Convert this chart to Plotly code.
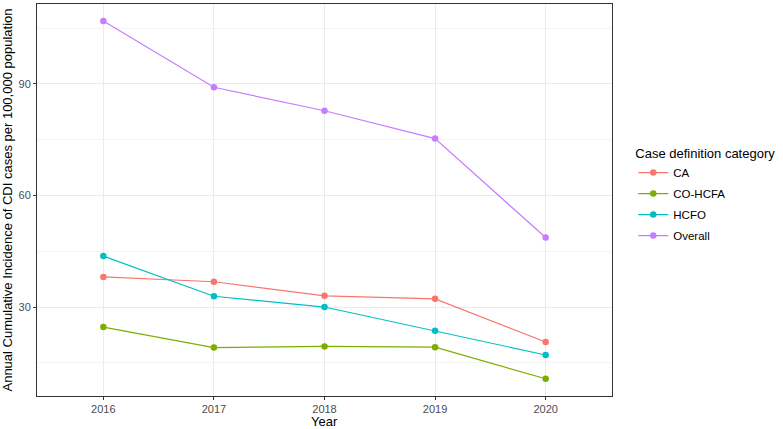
import plotly.graph_objects as go

years = [2016, 2017, 2018, 2019, 2020]
ca = [38.1, 36.8, 33.0, 32.2, 20.6]
co_hcfa = [24.6, 19.1, 19.4, 19.2, 10.7]
hcfo = [43.7, 32.9, 30.0, 23.6, 17.1]
overall = [106.9, 89.1, 82.8, 75.3, 48.7]

series_names = ["CA", "CO-HCFA", "HCFO", "Overall"]
series_values = [ca, co_hcfa, hcfo, overall]
colors = ["#F8766D", "#7CAE00", "#00BFC4", "#C77CFF"]

fig = go.Figure()
for name, vals, col in zip(series_names, series_values, colors):
    fig.add_trace(go.Scatter(
        x=years, y=vals, name=name, mode="lines+markers",
        line=dict(color=col, width=1.2),
        marker=dict(color=col, size=6.5),
        legendgroup=name,
    ))

font_family = "Liberation Sans, Arial, sans-serif"
fig.update_layout(
    width=783, height=429,
    margin=dict(l=37, r=171, t=4, b=33),
    paper_bgcolor="white", plot_bgcolor="white",
    font=dict(family=font_family, color="#000000"),
    showlegend=True,
    legend=dict(
        x=1.037, xanchor="left", y=0.65, yanchor="top",
        title=dict(text="Case definition category", font=dict(size=13, color="#000000")),
        font=dict(size=11.5, color="#000000"),
        tracegroupgap=2,
        bgcolor="rgba(0,0,0,0)",
    ),
    annotations=[dict(
        text="Year", xref="paper", yref="paper", x=0.5, y=0,
        xanchor="center", yanchor="middle", yshift=-25, showarrow=False,
        font=dict(size=13, color="#000000"),
    )],
)
fig.update_xaxes(
    range=[2015.4, 2020.6],
    tickvals=years, ticktext=[str(y) for y in years],
    ticks="outside", ticklen=3, tickcolor="#333333", tickwidth=1,
    tickfont=dict(size=11, color="#4D4D4D"),
    showgrid=True, gridcolor="#EBEBEB", gridwidth=1,
    showline=True, linecolor="#333333", linewidth=1, mirror=True,
    zeroline=False,
    automargin=False,
)
fig.update_yaxes(
    range=[6.07, 111.5],
    tickvals=[30, 60, 90],
    ticks="outside", ticklen=3, tickcolor="#333333", tickwidth=1,
    tickfont=dict(size=11, color="#4D4D4D"),
    showgrid=True, gridcolor="#EBEBEB", gridwidth=1,
    minor=dict(tickvals=[15, 45, 75, 105], showgrid=True, gridcolor="#F4F4F4", gridwidth=0.6),
    showline=True, linecolor="#333333", linewidth=1, mirror=True,
    zeroline=False,
    title=dict(text="Annual Cumulative Incidence of CDI cases per 100,000 population",
               font=dict(size=13, color="#000000"), standoff=3),
    automargin=False,
)

fig.write_html("out.html", config={"displayModeBar": False},
               post_script="document.body.style.margin='0';")
